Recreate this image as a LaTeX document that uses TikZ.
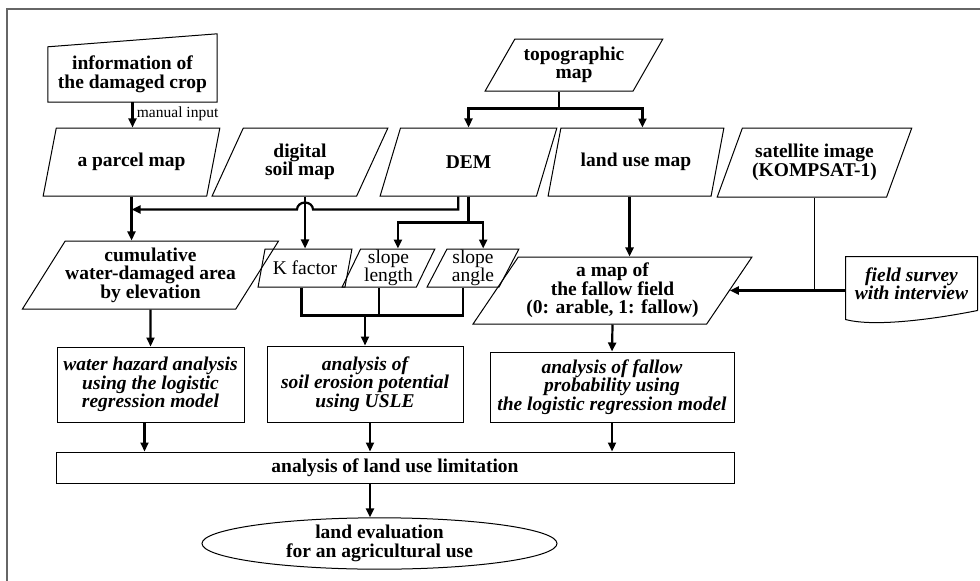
\documentclass[tikz,border=0pt]{standalone}
\usepackage{fontspec}
\setmainfont{Liberation Serif}
\usetikzlibrary{shapes.geometric,arrows.meta,calc}

\begin{document}
\begin{tikzpicture}[x=1pt, y=-1pt,
  txt/.style={font=\fontsize{19.5}{18.5}\selectfont\bfseries, align=center},
  map/.style={txt, draw, line width=1pt, trapezium, trapezium stretches,
    trapezium left angle=#1, trapezium right angle={180-#1}, inner sep=0pt},
  task/.style={txt, draw, line width=1pt, font=\fontsize{19.5}{18.5}\selectfont\bfseries\itshape, inner sep=0pt},
  link/.style={line width=2.2pt},
  arr/.style={link, -{Triangle[width=8pt,length=9pt]}}]
\useasboundingbox (0,0) rectangle (980,581);
\draw[line width=2pt, black!60] (7,581) -- (7,9) -- (980,9);

\node[txt, minimum width=169pt, minimum height=55pt, inner sep=0pt] (info) at (132.5,74.5) {information of\\the damaged crop};
\draw[line width=1pt] (info.south west) -- (info.south east) -- ([yshift=13pt]info.north east) -- (info.north west) -- cycle;
\node[map=62, minimum width=177pt, minimum height=68pt] (parcel) at (131.5,162) {a parcel map};
\node[map=62, minimum width=176pt, minimum height=68pt] (soil) at (300,162) {digital\\soil map};
\node[map=62, minimum width=177pt, minimum height=68pt] (dem) at (468.5,162) {DEM};
\node[map=62, minimum width=176pt, minimum height=68pt] (landuse) at (636,162) {land use map};
\node[map=59, minimum width=195pt, minimum height=69pt] (sat) at (814.5,162.5) {satellite image\\(KOMPSAT-1)};
\node[map=55, minimum width=178pt, minimum height=52pt] (topo) at (574,65) {topographic\\map};
\node[map=52, minimum width=251pt, minimum height=68pt] (cumul) at (150.5,275) {cumulative\\water-damaged area\\by elevation};
\node[map=68, font=\fontsize{19.5}{18.5}\selectfont, minimum width=94pt, minimum height=38pt] (kfac) at (305,268) {K factor};
\node[map=66, font=\fontsize{19.5}{18.5}\selectfont, minimum width=93pt, minimum height=38pt] (slen) at (388.5,268) {slope\\length};
\node[map=66, font=\fontsize{19.5}{18.5}\selectfont, minimum width=92pt, minimum height=38pt] (sang) at (473,268) {slope\\angle};
\node[map=53, minimum width=279pt, minimum height=67pt] (fallow) at (612.5,290.5) {a map of\\the fallow field\\(0: arable, 1: fallow)};
\node[task, draw=none, minimum width=131pt, minimum height=53pt] (survey) at (911.5,283.5) {field survey\\with interview};
\draw[line width=1pt] (survey.south east) -- (survey.north east) -- (survey.north west) -- ([yshift=-9pt]survey.south west) .. controls +(30pt,-8pt) and +(-40pt,-8pt) .. (survey.south east);

\node[task, minimum width=187pt, minimum height=75pt] (hazard) at (150.5,384.5) {water hazard analysis\\using the logistic\\regression model};
\node[task, minimum width=196pt, minimum height=76pt] (erosion) at (365,384) {analysis of\\soil erosion potential\\using USLE};
\node[task, minimum width=244pt, minimum height=70pt] (fallowprob) at (612,387) {analysis of fallow\\probability using\\the logistic regression model};
\node[txt, draw, line width=1pt, minimum width=678pt, minimum height=31pt] (limit) at (395,467.5) {analysis of land use limitation};
\node[txt, draw, line width=1pt, ellipse, minimum width=355pt, minimum height=47pt, inner sep=0pt] (eval) at (379.5,543.5) {land evaluation\\for an agricultural use};

\draw[arr] (info.south) -- node[right, pos=0.45, font=\fontsize{15.5}{16}\selectfont] {manual input} (info.south |- parcel.north);
\draw[link] (topo.bottom side) -- ++(0,17) coordinate (tsplit);
\draw[arr] (tsplit) -| (dem.north);
\draw[arr] (tsplit) -| (landuse.top side);
\draw[arr] (dem.bottom side) -- ++(0,13) coordinate (elev) -- ($(elev -| kfac.north)+(8,0)$)
  arc[start angle=0, end angle=180, x radius=8pt, y radius=7pt] -- (elev -| parcel.south);
\draw[arr] (parcel.south) -- (parcel.south |- cumul.north);
\draw[arr] (kfac.north |- soil.south) -- (kfac.north);
\draw[link] (dem.south) -- ++(0,26) coordinate (dsplit);
\draw[arr] (dsplit) -| (slen.top side);
\draw[arr] (dsplit) -| (sang.top side);
\draw[link] (kfac.bottom side) -- ++(0,28) coordinate (merge) -| (sang.bottom side);
\draw[link] (slen.bottom side) -- (slen.bottom side |- merge);
\draw[arr] (erosion.north |- merge) -- (erosion.north);
\draw[arr] (landuse.bottom side) -- (landuse.bottom side |- fallow.north);
\draw[line width=1.3pt] (sat.south) -- (sat.south |- fallow.east);
\draw[arr] (survey.west |- fallow.east) -- (fallow.east);
\draw[arr] (cumul.south) -- (hazard.north);
\draw[arr] (fallow.south) -- (fallowprob.north);
\draw[arr] ([xshift=-6pt]hazard.south) -- ([xshift=-6pt]hazard.south |- limit.north);
\draw[arr] ([xshift=5pt]erosion.south) -- ([xshift=5pt]erosion.south |- limit.north);
\draw[arr] (fallowprob.south) -- (fallowprob.south |- limit.north);
\draw[arr] ([xshift=-9.5pt]eval.north |- limit.south) -- ([xshift=-9.5pt]eval.north);
\end{tikzpicture}
\end{document}
